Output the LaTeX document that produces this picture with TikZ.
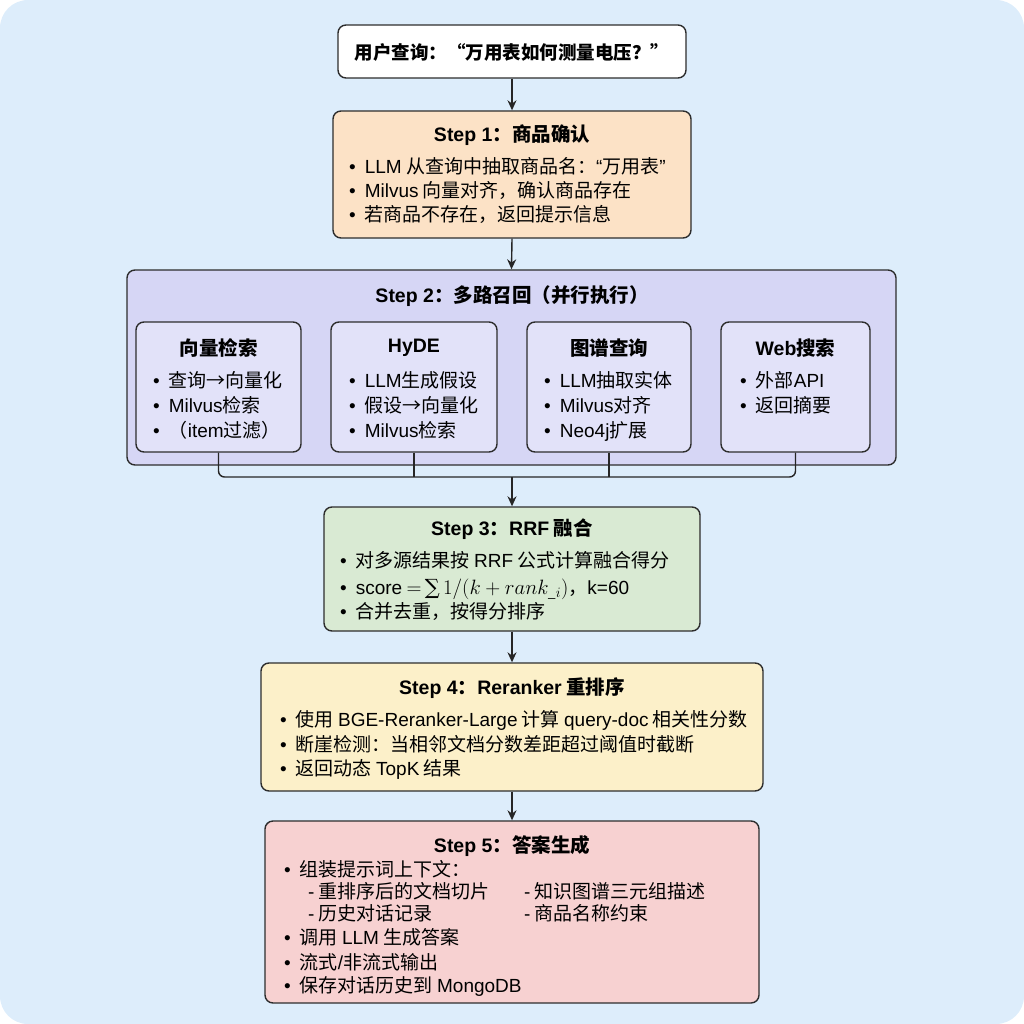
\documentclass[tikz,border=0pt]{standalone}
\usepackage{amsmath}
\usepackage{fontspec}
\setmainfont{Noto Sans CJK SC}
\newfontfamily\latfont{Liberation Sans}
\newfontfamily\sumfont{DejaVu Serif}
\newcommand\LT[1]{{\latfont #1}}
\newcommand\BL{{\latfont •}\hspace{9pt}}
\usetikzlibrary{arrows.meta}
\definecolor{bgc}{RGB}{221,237,251}
\definecolor{edgec}{RGB}{45,45,45}
\definecolor{c1}{RGB}{252,226,198}
\definecolor{c2}{RGB}{214,214,245}
\definecolor{c2s}{RGB}{226,226,249}
\definecolor{c3}{RGB}{217,234,211}
\definecolor{c4}{RGB}{252,240,201}
\definecolor{c5}{RGB}{247,209,209}
\tikzset{
  box/.style={draw=edgec, line width=1.4pt, rounded corners=8pt, inner sep=0pt},
  ttl/.style={font=\fontsize{19.5}{22}\selectfont\bfseries, inner sep=0pt},
  txt/.style={font=\fontsize{19}{22}\selectfont, anchor=west, inner sep=0pt, text height=16pt, text depth=2pt},
  arr/.style={draw=black!85, line width=1.4pt, -{Stealth[length=10pt,width=9pt]}},
  bus/.style={draw=black!85, line width=1.4pt, rounded corners=6pt},
}
\begin{document}
\begin{tikzpicture}[x=1pt,y=-1pt]
\useasboundingbox (0,0) rectangle (1024,1024);
\fill[bgc, rounded corners=28pt] (0,0) rectangle (1024,1024);

% Query
\node[box, fill=white, minimum width=348pt, minimum height=53pt] (q) at (512,51.5) {};
\node[ttl, font=\fontsize{18.5}{22}\selectfont\bfseries] (qt) at (512,52) {用户查询：“万用表如何测量电压？”};

% Step 1
\node[box, fill=c1, minimum width=358pt, minimum height=127pt] (s1) at (512,174.5) {};
\node[ttl] (s1t) at (512,135) {\LT{Step 1}：商品确认};
\node[txt] (s1a) at (349,167) {\BL\LT{LLM} 从查询中抽取商品名：\LT{“}万用表\LT{”}};
\node[txt] (s1b) at (349,191) {\BL\LT{Milvus} 向量对齐，确认商品存在};
\node[txt] (s1c) at (349,215) {\BL 若商品不存在，返回提示信息};

% Step 2
\node[box, fill=c2, minimum width=769pt, minimum height=195pt] (s2) at (511.5,367.5) {};
\node[ttl] (s2t) at (512,296) {\LT{Step 2}：多路召回（并行执行）};

\node[box, fill=c2s, minimum width=165pt, minimum height=130pt] (v) at (218.5,387) {};
\node[ttl] (vt) at (218.5,348) {向量检索};
\node[txt] (va) at (153,380) {\BL 查询→向量化};
\node[txt] (vb) at (153,405) {\BL\LT{Milvus}检索};
\node[txt] (vc) at (153,430) {\BL（\LT{item}过滤）};

\node[box, fill=c2s, minimum width=166pt, minimum height=130pt] (h) at (414,387) {};
\node[ttl] (ht) at (414,348) {\LT{HyDE}};
\node[txt] (ha) at (349,380) {\BL\LT{LLM}生成假设};
\node[txt] (hb) at (349,405) {\BL 假设→向量化};
\node[txt] (hc) at (349,430) {\BL\LT{Milvus}检索};

\node[box, fill=c2s, minimum width=164pt, minimum height=130pt] (g) at (609,387) {};
\node[ttl] (gt) at (609,348) {图谱查询};
\node[txt] (ga) at (544,380) {\BL\LT{LLM}抽取实体};
\node[txt] (gb) at (544,405) {\BL\LT{Milvus}对齐};
\node[txt] (gc) at (544,430) {\BL\LT{Neo4j}扩展};

\node[box, fill=c2s, minimum width=149pt, minimum height=130pt] (w) at (795.5,387) {};
\node[ttl] (wt) at (795.5,348) {\LT{Web}搜索};
\node[txt] (wa) at (740,380) {\BL 外部\LT{API}};
\node[txt] (wb) at (740,405) {\BL 返回摘要};

% Step 3
\node[box, fill=c3, minimum width=376pt, minimum height=124pt] (s3) at (512,569) {};
\node[ttl] (s3t) at (512,529) {\LT{Step 3}：\LT{RRF} 融合};
\node[txt] (s3a) at (340,560) {\BL 对多源结果按 \LT{RRF} 公式计算融合得分};
\node[txt] (s3b) at (340,587) {\BL\LT{score} {\fontsize{20}{23}\selectfont$=$\,{\sumfont\fontsize{21}{23}\selectfont ∑}\,$1/(k+rank_{\_i})$}，\LT{k=60}};
\node[txt] (s3c) at (340,611) {\BL 合并去重，按得分排序};

% Step 4
\node[box, fill=c4, minimum width=502pt, minimum height=128pt] (s4) at (512,727) {};
\node[ttl] (s4t) at (512,688) {\LT{Step 4}：\LT{Reranker} 重排序};
\node[txt] (s4a) at (280,719) {\BL 使用 \LT{BGE-Reranker-Large} 计算 \LT{query-doc} 相关性分数};
\node[txt] (s4b) at (280,744) {\BL 断崖检测：当相邻文档分数差距超过阈值时截断};
\node[txt] (s4c) at (280,768) {\BL 返回动态 \LT{TopK} 结果};

% Step 5
\node[box, fill=c5, minimum width=494pt, minimum height=182pt] (s5) at (512,912) {};
\node[ttl] (s5t) at (512,846) {\LT{Step 5}：答案生成};
\node[txt] (s5a) at (284,869) {\BL 组装提示词上下文：};
\node[txt] (s5b) at (308,891) {\LT{-} 重排序后的文档切片};
\node[txt] (s5c) at (524,891) {\LT{-} 知识图谱三元组描述};
\node[txt] (s5d) at (308,913) {\LT{-} 历史对话记录};
\node[txt] (s5e) at (524,913) {\LT{-} 商品名称约束};
\node[txt] (s5f) at (284,937) {\BL 调用 \LT{LLM} 生成答案};
\node[txt] (s5g) at (284,962) {\BL 流式\LT{/}非流式输出};
\node[txt] (s5h) at (284,985) {\BL 保存对话历史到 \LT{MongoDB}};

% connectors
\draw[arr] (q.south) -- (s1.north);
\draw[arr] (s1.south) -- (s2.north);
\coordinate (busc) at (512,477);
\draw[bus] (v.south) -- (v.south |- busc) -- (w.south |- busc) -- (w.south);
\draw[bus] (h.south) -- (h.south |- busc);
\draw[bus] (g.south) -- (g.south |- busc);
\draw[arr] (busc) -- (s3.north);
\draw[arr] (s3.south) -- (s4.north);
\draw[arr] (s4.south) -- (s5.north);
\end{tikzpicture}
\end{document}
